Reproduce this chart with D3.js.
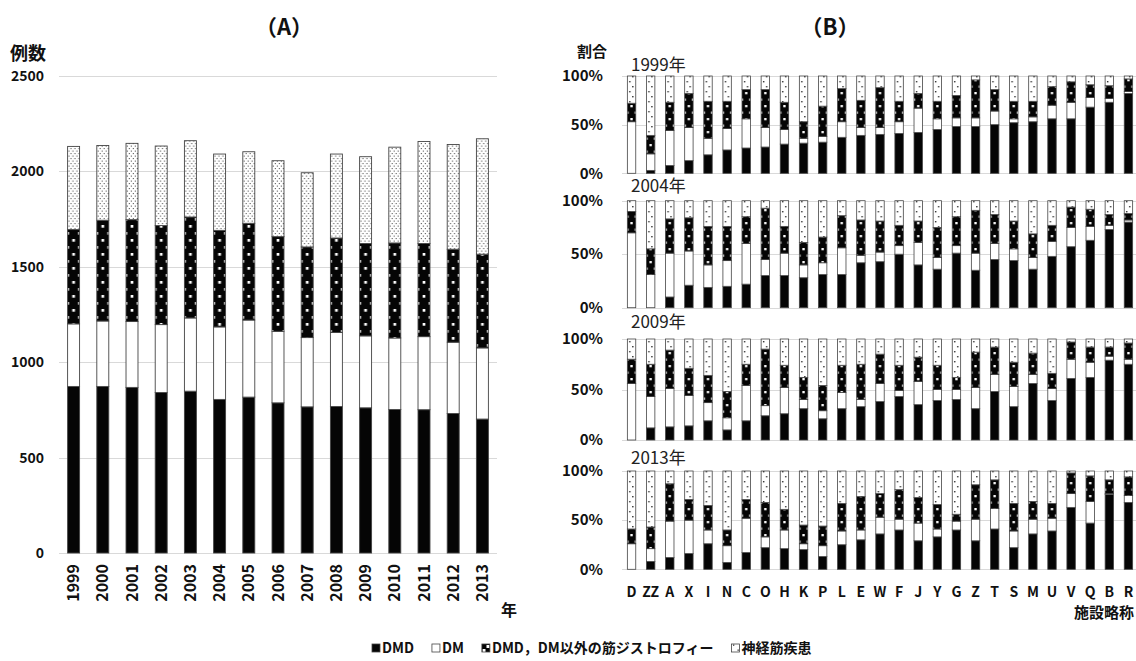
<!DOCTYPE html>
<html>
<head>
<meta charset="utf-8">
<script src="https://cdn.jsdelivr.net/npm/d3@7"></script>
<style>
  body { margin: 0; background: #fff; }
  svg { display: block; font-family: "Noto Sans CJK JP", "Noto Sans", sans-serif; }
</style>
</head>
<body>
<svg id="chart" width="1136" height="661"></svg>
<script>
// ---------- Panel A: annual case counts ----------
const years = ["1999","2000","2001","2002","2003","2004","2005","2006","2007","2008","2009","2010","2011","2012","2013"];
const dmdCounts     = [873,873,868,841,848,805,817,787,766,768,761,752,751,731,702];
const dmCounts      = [328,343,345,356,384,380,404,375,363,388,377,375,383,374,373];
const otherMdCounts = [494,528,534,519,529,506,507,496,475,495,484,498,488,487,491];
const nmCounts      = [436,392,400,417,400,400,375,398,389,440,455,502,535,549,605];
const countTicks = [0,500,1000,1500,2000,2500];

// ---------- Panel B: share by facility, four survey years ----------
const facilities = ["D","ZZ","A","X","I","N","C","O","H","K","P","L","E","W","F","J","Y","G","Z","T","S","M","U","V","Q","B","R"];
const surveyYears = ["1999年","2004年","2009年","2013年"];

const dmdShare1999   = [0,3,8,13,19,24,26,27,30,31,32,37,39,40,41,42,45,48,48,50,52,53,56,56,68,73,82];
const dmShare1999    = [53,17,36,34,17,22,30,20,15,5,6,16,8,7,12,25,11,9,9,14,4,5,14,17,10,4,2];
const otherShare1999 = [19,19,29,35,38,28,30,39,28,17,31,34,28,41,21,15,18,23,39,22,18,16,19,21,13,13,13];
const nmShare1999    = [28,61,27,18,26,26,14,14,27,47,31,13,25,12,26,18,26,20,4,14,26,26,11,6,9,10,3];

const dmdShare2004   = [0,0,10,21,19,20,22,30,30,28,31,31,42,43,50,40,36,51,35,45,44,36,48,57,63,73,80];
const dmShare2004    = [70,31,41,32,21,24,38,15,21,12,11,25,7,9,8,21,11,7,16,15,11,11,14,18,13,4,2];
const otherShare2004 = [20,24,32,31,36,32,25,48,25,21,24,30,33,29,19,20,28,27,40,27,26,22,15,19,16,10,6];
const nmShare2004    = [10,45,17,16,24,24,15,7,24,39,34,14,18,19,23,19,25,15,9,13,19,31,23,6,8,13,12];

const dmdShare2009   = [0,12,13,14,19,10,19,24,26,31,21,31,33,38,43,35,39,40,31,48,33,56,39,61,62,79,75];
const dmShare2009    = [56,31,38,30,18,12,35,10,26,9,8,16,7,18,6,23,11,10,21,17,20,9,12,19,15,4,5];
const otherShare2009 = [24,32,38,27,27,26,21,56,22,22,25,27,35,29,25,24,24,12,35,27,24,21,15,17,15,9,16];
const nmShare2009    = [20,25,11,29,36,52,25,10,26,38,46,26,25,15,26,18,26,38,13,8,23,14,34,3,8,8,4];

const dmdShare2013   = [0,8,12,16,26,7,17,22,21,20,13,25,30,36,40,29,33,40,29,41,22,36,39,63,47,76,68];
const dmShare2013    = [26,13,37,34,14,17,35,11,19,6,11,14,10,17,11,18,8,9,22,21,17,15,13,14,22,1,7];
const otherShare2013 = [15,22,38,21,25,16,19,35,21,19,20,28,34,24,30,26,25,7,35,29,28,18,15,21,26,14,19];
const nmShare2013    = [59,57,13,29,35,60,29,32,39,55,56,33,26,23,19,27,34,44,14,9,33,31,33,2,5,9,6];

const shareTicks = [0,50,100];
const seriesKeys = ["dmd","dm","other","nm"];
const seriesLabels = ["DMD","DM","DMD，DM以外の筋ジストロフィー","神経筋疾患"];

// ---------- helpers ----------
const svg = d3.select("#chart");
const defs = svg.append("defs");
const INK = "#050505";
const EDGE = "#444";
const GRID = "#d9d9d9";

// black ground with a staggered grid of small white squares
function addOtherPattern(id, x, w, h, sq) {
  const p = defs.append("pattern").attr("id", id)
    .attr("patternUnits", "userSpaceOnUse")
    .attr("x", x).attr("y", 0).attr("width", w).attr("height", h);
  p.append("rect").attr("width", w).attr("height", h).attr("fill", INK);
  p.append("rect").attr("x", w / 2 - sq / 2).attr("y", 1).attr("width", sq).attr("height", sq).attr("fill", "#fff");
  p.append("rect").attr("x", -sq / 2).attr("y", h / 2 + 1).attr("width", sq).attr("height", sq).attr("fill", "#fff");
  p.append("rect").attr("x", w - sq / 2).attr("y", h / 2 + 1).attr("width", sq).attr("height", sq).attr("fill", "#fff");
}
// white ground with staggered dark dots
function addDotPattern(id, x, w, h, d, c1, c2) {
  const p = defs.append("pattern").attr("id", id)
    .attr("patternUnits", "userSpaceOnUse")
    .attr("x", x).attr("y", 0).attr("width", w).attr("height", h);
  p.append("rect").attr("width", w).attr("height", h).attr("fill", "#fff");
  p.append("rect").attr("x", c1[0]).attr("y", c1[1]).attr("width", d).attr("height", d).attr("fill", "#333");
  p.append("rect").attr("x", c2[0]).attr("y", c2[1]).attr("width", d).attr("height", d).attr("fill", "#333");
}

function fillFor(key, prefix, i) {
  if (key === "dmd") return INK;
  if (key === "dm") return "#fff";
  if (key === "other") return `url(#${prefix}-other-${i})`;
  return `url(#${prefix}-nm-${i})`;
}

const stack = d3.stack().keys(seriesKeys);

// ================= Panel A =================
const xA = d3.scaleBand().domain(years).range([59, 497]).paddingInner(0.59).paddingOuter(0.295);
const yA = d3.scaleLinear().domain([0, 2500]).range([553, 76]);
const bwA = xA.bandwidth();

years.forEach((yr, i) => {
  const x0 = xA(yr);
  addOtherPattern(`a-other-${i}`, x0, bwA, 14, 2.7);
  addDotPattern(`a-nm-${i}`, x0, 4, 5, 1, [0.8, 0.6], [2.8, 3.1]);
});

const tableA = years.map((yr, i) => ({
  key: yr, idx: i,
  dmd: dmdCounts[i], dm: dmCounts[i], other: otherMdCounts[i], nm: nmCounts[i]
}));

const gA = svg.append("g");
gA.append("g").selectAll("line").data(countTicks).join("line")
  .attr("x1", 59).attr("x2", 497)
  .attr("y1", d => Math.round(yA(d)) + 0.5).attr("y2", d => Math.round(yA(d)) + 0.5)
  .attr("stroke", GRID).attr("stroke-width", 1);

gA.append("g").selectAll("text").data(countTicks).join("text")
  .attr("x", 44).attr("y", d => yA(d)).attr("dy", "0.35em")
  .attr("text-anchor", "end").attr("font-size", 14).attr("font-weight", 700).attr("fill", "#111")
  .text(d => d);

stack(tableA).forEach(layer => {
  gA.append("g").selectAll("rect").data(layer).join("rect")
    .attr("x", d => xA(d.data.key))
    .attr("width", bwA)
    .attr("y", d => yA(d[1]))
    .attr("height", d => yA(d[0]) - yA(d[1]))
    .attr("fill", d => fillFor(layer.key, "a", d.data.idx))
    .attr("stroke", EDGE).attr("stroke-width", 0.9);
});

gA.append("g").selectAll("text").data(years).join("text")
  .attr("transform", d => `translate(${xA(d) + bwA / 2},564) rotate(-90)`)
  .attr("dy", "0.35em")
  .attr("text-anchor", "end").attr("font-size", 16).attr("font-weight", 700).attr("fill", "#111")
  .text(d => d);

gA.append("text").attr("x", 10).attr("y", 54).attr("dy", "0.35em")
  .attr("font-size", 18).attr("font-weight", 700).attr("fill", "#111").text("例数");
gA.append("text").attr("x", 509).attr("y", 610).attr("dy", "0.35em").attr("text-anchor", "middle")
  .attr("font-size", 16).attr("font-weight", 700).attr("fill", "#111").text("年");
gA.append("text").attr("x", 284).attr("y", 27).attr("dy", "0.35em").attr("text-anchor", "middle")
  .attr("font-size", 22).attr("font-weight", 700).attr("fill", "#111").text("（A）");

// ================= Panel B =================
const xB = d3.scaleBand().domain(facilities).range([622, 1138]).paddingInner(0.56).paddingOuter(0.28);
const bwB = xB.bandwidth();

facilities.forEach((f, i) => {
  const x0 = xB(f);
  addOtherPattern(`b-other-${i}`, x0, bwB, 13, 2.3);
  addDotPattern(`b-nm-${i}`, x0, bwB, 10, 1.4, [bwB * 0.3 - 0.7, 1], [bwB * 0.65 - 0.7, 6]);
});

const shareData = {
  "1999年": [dmdShare1999, dmShare1999, otherShare1999, nmShare1999],
  "2004年": [dmdShare2004, dmShare2004, otherShare2004, nmShare2004],
  "2009年": [dmdShare2009, dmShare2009, otherShare2009, nmShare2009],
  "2013年": [dmdShare2013, dmShare2013, otherShare2013, nmShare2013]
};

// vertical extent of each small panel: [bottom, top, title centre]
const panelBands = [[173.3, 76, 65], [307.7, 200.7, 186], [440, 339, 322], [569.3, 471, 458]];

const gB = svg.append("g");
surveyYears.forEach((sy, k) => {
  const [bot, top, ty] = panelBands[k];
  const yB = d3.scaleLinear().domain([0, 100]).range([bot, top]);
  const g = gB.append("g");

  g.append("g").selectAll("line").data(shareTicks).join("line")
    .attr("x1", 622).attr("x2", 1136)
    .attr("y1", d => Math.round(yB(d)) + 0.5).attr("y2", d => Math.round(yB(d)) + 0.5)
    .attr("stroke", GRID).attr("stroke-width", 1);

  g.append("g").selectAll("text").data(shareTicks).join("text")
    .attr("x", 603).attr("y", d => yB(d)).attr("dy", "0.35em")
    .attr("text-anchor", "end").attr("font-size", 15).attr("font-weight", 700).attr("fill", "#111")
    .text(d => d + "%");

  g.append("text").attr("x", 631).attr("y", ty).attr("dy", "0.35em")
    .attr("font-size", 17).attr("font-weight", 400).attr("fill", "#222").text(sy);

  const arrs = shareData[sy];
  const table = facilities.map((f, i) => ({
    key: f, idx: i, dmd: arrs[0][i], dm: arrs[1][i], other: arrs[2][i], nm: arrs[3][i]
  }));
  stack(table).forEach(layer => {
    g.append("g").selectAll("rect").data(layer.filter(d => d[1] > d[0])).join("rect")
      .attr("x", d => xB(d.data.key))
      .attr("width", bwB)
      .attr("y", d => yB(d[1]))
      .attr("height", d => yB(d[0]) - yB(d[1]))
      .attr("fill", d => fillFor(layer.key, "b", d.data.idx))
      .attr("stroke", EDGE).attr("stroke-width", 0.8);
  });
});

gB.append("g").selectAll("text").data(facilities).join("text")
  .attr("x", d => xB(d) + bwB / 2).attr("y", 592).attr("dy", "0.35em")
  .attr("text-anchor", "middle").attr("font-size", 14).attr("font-weight", 700).attr("fill", "#111")
  .text(d => d);

gB.append("text").attr("x", 577).attr("y", 52).attr("dy", "0.35em")
  .attr("font-size", 15).attr("font-weight", 700).attr("fill", "#111").text("割合");
gB.append("text").attr("x", 1134).attr("y", 613).attr("dy", "0.35em").attr("text-anchor", "end")
  .attr("font-size", 15).attr("font-weight", 700).attr("fill", "#111").text("施設略称");
gB.append("text").attr("x", 830).attr("y", 27).attr("dy", "0.35em").attr("text-anchor", "middle")
  .attr("font-size", 22).attr("font-weight", 700).attr("fill", "#111").text("（B）");

// ================= Legend =================
addOtherPattern("lg-other", 0, 8, 8, 3);
addDotPattern("lg-nm", 0, 8, 8, 1.3, [1.5, 1.5], [5, 4.5]);
const legend = svg.append("g");
let lx = 372;
const ly = 648;
seriesKeys.forEach((key, i) => {
  const fill = key === "dmd" ? INK : key === "dm" ? "#fff" : key === "other" ? "url(#lg-other)" : "url(#lg-nm)";
  legend.append("rect").attr("x", lx).attr("y", ly - 4).attr("width", 8).attr("height", 8)
    .attr("fill", fill).attr("stroke", EDGE).attr("stroke-width", 0.8);
  const t = legend.append("text").attr("x", lx + 10).attr("y", ly).attr("dy", "0.35em")
    .attr("font-size", 14).attr("font-weight", 700).attr("fill", "#111").text(seriesLabels[i]);
  lx += 10 + t.node().getComputedTextLength() + 18;
});
</script>
</body>
</html>
